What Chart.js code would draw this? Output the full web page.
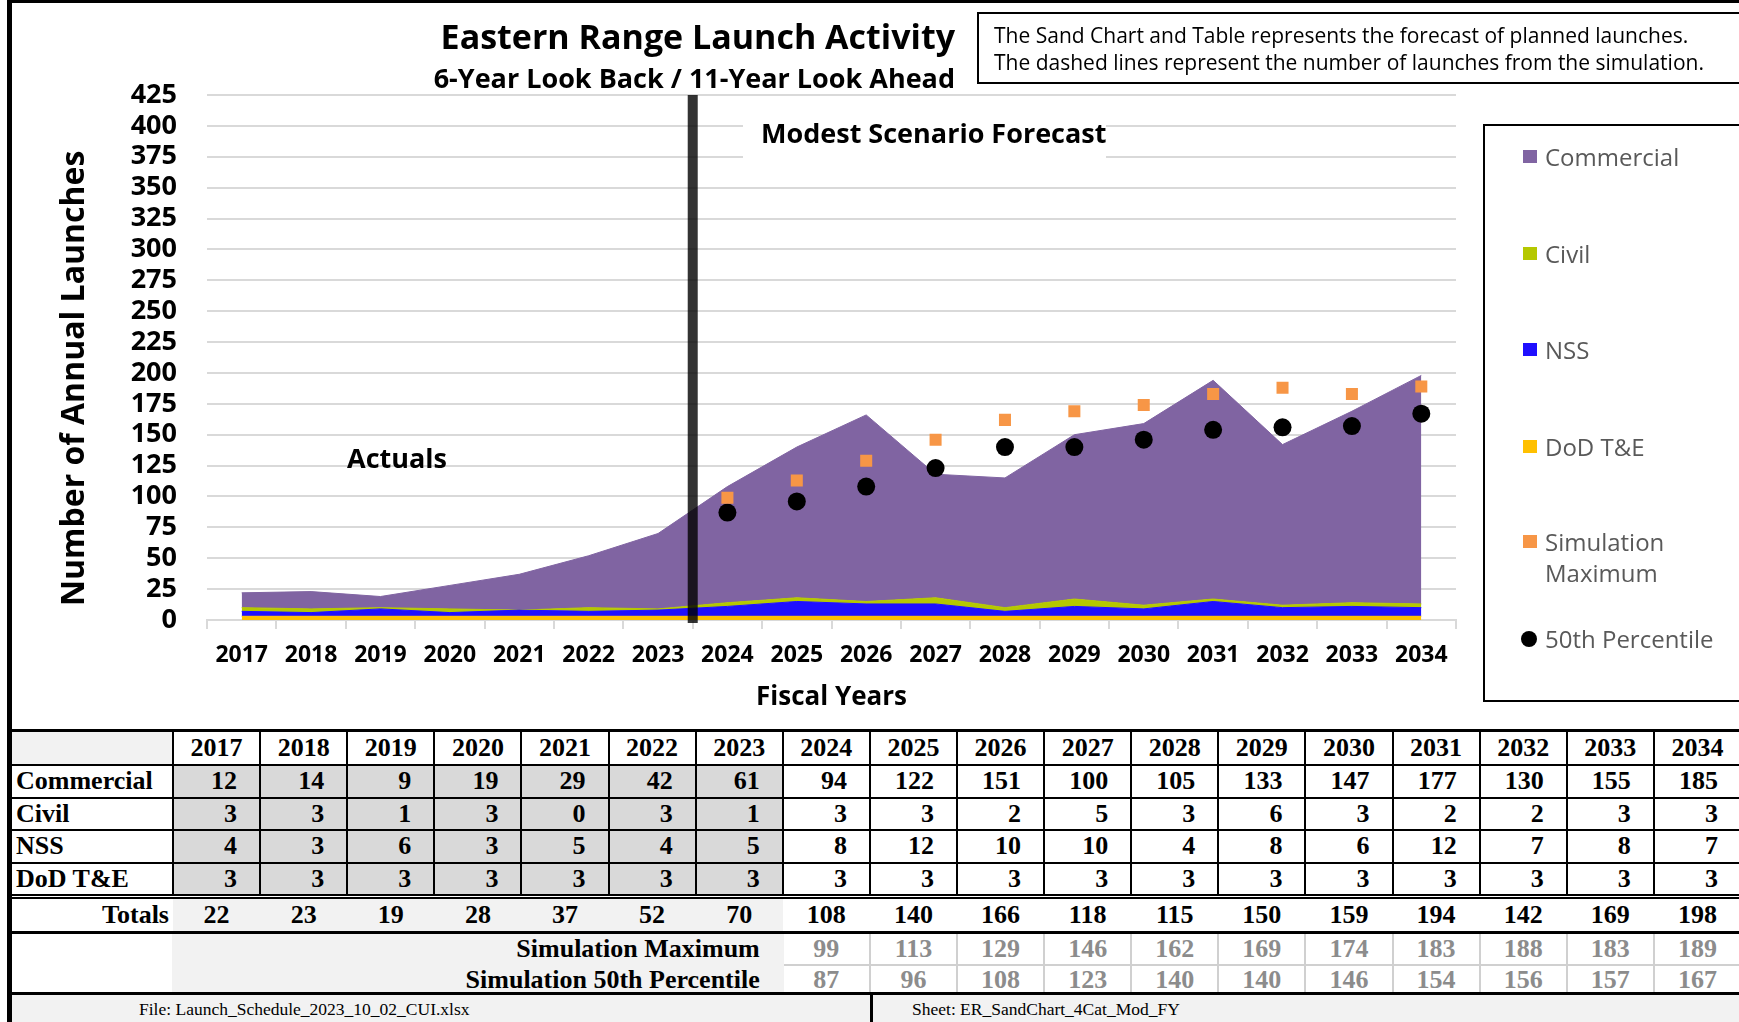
<!DOCTYPE html>
<html>
<head>
<meta charset="utf-8">
<title>Eastern Range Launch Activity</title>
<script src="https://cdn.jsdelivr.net/npm/chart.js@4.4.1/dist/chart.umd.min.js"></script>
<style>
  body { margin: 0; background: #fff; }
  #wrap { position: relative; width: 1739px; height: 1022px; overflow: hidden; font-family: "Open Sans", sans-serif; }
  #chart { position: absolute; left: 0; top: 0; }
  .frameL { position: absolute; left: 7px; top: 0; width: 5px; height: 1022px; background: #000; z-index: 5; }
  .frameT { position: absolute; left: 7px; top: 0; width: 1732px; height: 3px; background: #000; z-index: 5; }
  .title { position: absolute; right: 784px; top: 14px; font-weight: bold; font-size: 34px; line-height: 44px; white-space: nowrap; }
  .subtitle { position: absolute; right: 784px; top: 62px; font-weight: bold; font-size: 27px; line-height: 32px; white-space: nowrap; }
  .note { position: absolute; left: 977px; top: 12px; width: 800px; height: 72px; border: 2px solid #000; box-sizing: border-box; padding: 8px 0 0 15px; font-size: 21px; line-height: 27px; color: #000; white-space: nowrap; }
  .legend { position: absolute; left: 1483px; top: 124px; width: 300px; height: 578px; border: 2px solid #000; box-sizing: border-box; }
  .leg-item { position: absolute; left: 60px; font-size: 24px; line-height: 31px; color: #595959; white-space: nowrap; }
  .leg-mark { position: absolute; left: -22px; top: 9px; width: 14px; height: 13px; }
  #tbl { position: absolute; left: 10px; top: 729px; width: 1730px; border-collapse: collapse; table-layout: fixed;
         font-family: "Liberation Serif", "Times New Roman", serif; font-weight: bold; font-size: 26px; color: #000; }
  #tbl td { padding: 0; line-height: 26px; white-space: nowrap; overflow: hidden; }
  #tbl tr.hd td { height: 32px; border: 2px solid #000; border-top: 3px solid #000; text-align: center; background: #fff; }
  #tbl tr.hd td.lab { background: #f2f2f2; }
  #tbl tr.dat td { height: 30.5px; border: 2px solid #000; text-align: right; padding-right: 22px; background: #fff; }
  #tbl tr.dat td.act { background: #d9d9d9; }
  #tbl tr.dat td.lab { text-align: left; padding: 0 0 0 4px; }
  #tbl tr.tot td { height: 32px; border-top: 5px double #000; border-bottom: 3px solid #000; text-align: center; background: #fff; }
  #tbl tr.tot td.act { background: #f2f2f2; }
  #tbl tr.tot td.lab { text-align: right; padding-right: 4px; }
  #tbl tr.sim td { height: 29.5px; color: #8c8c8c; text-align: center; border: 2px solid #d0d0d0; background: #fff; }
  #tbl tr.sim td.lab { border: none; border-left: 2px solid #000; }
  #tbl tr.sim td.sl { background: #f2f2f2; color: #000; text-align: right; padding-right: 22px; border-color: #f2f2f2; }
  #tbl tr.sim.last td { border-bottom: none; }
  .foot { position: absolute; left: 10px; top: 992px; width: 1729px; height: 30px; background: #f2f2f2; border-top: 3px solid #000; box-sizing: border-box;
          font-family: "Liberation Serif", "Times New Roman", serif; font-size: 17.5px; line-height: 30px; }
  .foot span { position: absolute; top: -1px; white-space: nowrap; }
  .foot .div { position: absolute; left: 860px; top: 0; width: 3px; height: 28px; background: #000; }
</style>
</head>
<body>
<div id="wrap">
  <canvas id="chart" width="1739" height="728"></canvas>
  <div class="frameL"></div>
  <div class="frameT"></div>
  <div class="title">Eastern Range Launch Activity</div>
  <div class="subtitle">6-Year Look Back / 11-Year Look Ahead</div>
  <div class="note">The Sand Chart and Table represents the forecast of planned launches.<br>The dashed lines represent the number of launches from the simulation.</div>
  <div class="legend" id="legend"></div>
  <table id="tbl"></table>
  <div class="foot">
    <span style="left:129px">File: Launch_Schedule_2023_10_02_CUI.xlsx</span>
    <div class="div"></div>
    <span style="left:902px">Sheet: ER_SandChart_4Cat_Mod_FY</span>
  </div>
</div>
<script>
// Datos
const years = ["2017", "2018", "2019", "2020", "2021", "2022", "2023", "2024", "2025",
  "2026", "2027", "2028", "2029", "2030", "2031", "2032", "2033", "2034"];
const commercial = [12, 14, 9, 19, 29, 42, 61, 94, 122, 151, 100, 105, 133, 147, 177, 130, 155, 185];
const civil = [3, 3, 1, 3, 0, 3, 1, 3, 3, 2, 5, 3, 6, 3, 2, 2, 3, 3];
const nss = [4, 3, 6, 3, 5, 4, 5, 8, 12, 10, 10, 4, 8, 6, 12, 7, 8, 7];
const dodTE = [3, 3, 3, 3, 3, 3, 3, 3, 3, 3, 3, 3, 3, 3, 3, 3, 3, 3];
const totals = [22, 23, 19, 28, 37, 52, 70, 108, 140, 166, 118, 115, 150, 159, 194, 142, 169, 198];
const simMax = [null, null, null, null, null, null, null, 99, 113, 129, 146, 162, 169, 174, 183, 188, 183, 189];
const sim50 = [null, null, null, null, null, null, null, 87, 96, 108, 123, 140, 140, 146, 154, 156, 157, 167];
const actualYears = 7;

const colors = {
  commercial: "#8064a2",
  civil: "#b5c800",
  nss: "#1f0fff",
  dod: "#ffc000",
  simMax: "#f79646",
  sim50: "#000000",
};

Chart.defaults.font.family = "'Open Sans', sans-serif";
Chart.defaults.color = "#000";

// Línea divisoria y textos sobre el gráfico
const overlayPlugin = {
  id: "overlay",
  afterDatasetsDraw(chart) {
    const { ctx, chartArea, scales } = chart;
    const x = scales.x, y = scales.y;
    ctx.save();
    const xd = (x.getPixelForValue(actualYears - 1) + x.getPixelForValue(actualYears)) / 2;
    ctx.fillStyle = "rgba(0,0,0,0.8)";
    ctx.fillRect(xd - 5, chartArea.top, 10, y.getPixelForValue(0) + 3 - chartArea.top);

    ctx.fillStyle = "#fff";
    ctx.fillRect(743, 108, 363, 54);
    ctx.fillStyle = "#000";
    ctx.font = "bold 27px 'Open Sans'";
    ctx.textBaseline = "middle";
    ctx.textAlign = "left";
    ctx.fillText("Modest Scenario Forecast", 761, 135);
    ctx.textAlign = "center";
    ctx.fillText("Actuals", 397, 460);
    ctx.restore();
  },
};

function areaSet(label, data, color, fill) {
  return {
    label: label,
    data: data,
    backgroundColor: color,
    borderColor: color,
    borderWidth: 1,
    pointRadius: 0,
    fill: fill,
    stack: "launches",
    tension: 0,
  };
}

const ctx = document.getElementById("chart").getContext("2d");
new Chart(ctx, {
  type: "line",
  data: {
    labels: years,
    datasets: [
      areaSet("DoD T&E", dodTE, colors.dod, "origin"),
      areaSet("NSS", nss, colors.nss, "-1"),
      areaSet("Civil", civil, colors.civil, "-1"),
      areaSet("Commercial", commercial, colors.commercial, "-1"),
      {
        label: "Simulation Maximum",
        data: simMax,
        showLine: false,
        pointStyle: "rect",
        pointRadius: 8.5,
        backgroundColor: colors.simMax,
        borderColor: colors.simMax,
        borderWidth: 0,
        stack: "max",
        order: -2,
      },
      {
        label: "50th Percentile",
        data: sim50,
        showLine: false,
        pointStyle: "circle",
        pointRadius: 9,
        backgroundColor: colors.sim50,
        borderColor: colors.sim50,
        borderWidth: 0,
        stack: "p50",
        order: -1,
      },
    ],
  },
  options: {
    responsive: false,
    animation: false,
    layout: { padding: { left: 0, right: 283, top: 95, bottom: 0 } },
    plugins: {
      legend: { display: false },
      tooltip: { enabled: false },
    },
    scales: {
      x: {
        offset: true,
        afterFit: (scale) => { scale.height = 108; },
        grid: { drawOnChartArea: false, drawTicks: true, tickLength: 9, offset: true, color: "#d9d9d9", lineWidth: 2 },
        border: { display: true, color: "#d9d9d9", width: 2 },
        ticks: { font: { size: 23, weight: "bold" }, padding: 13, maxRotation: 0, autoSkip: false },
        title: { display: true, text: "Fiscal Years", font: { size: 26, weight: "bold" }, padding: { top: 0, bottom: 15 } },
      },
      y: {
        stacked: true,
        min: 0,
        max: 425,
        afterFit: (scale) => { scale.width = 207; },
        grid: { color: "#d9d9d9", lineWidth: 2, drawTicks: false },
        border: { display: false },
        ticks: { stepSize: 25, autoSkip: false, font: { size: 27, weight: "bold" }, padding: 30 },
        title: { display: true, text: "Number of Annual Launches     ", font: { size: 32, weight: "bold" }, padding: { top: 56, bottom: 0 } },
      },
    },
  },
  plugins: [overlayPlugin],
});

// Leyenda
const legendItems = [
  { text: "Commercial", color: colors.commercial, center: 156, shape: "sq" },
  { text: "Civil", color: colors.civil, center: 253, shape: "sq" },
  { text: "NSS", color: colors.nss, center: 349, shape: "sq" },
  { text: "DoD T&E", color: colors.dod, center: 446, shape: "sq" },
  { text: "Simulation<br>Maximum", color: colors.simMax, center: 541, shape: "sq" },
  { text: "50th Percentile", color: colors.sim50, center: 638, shape: "dot" },
];
const legend = document.getElementById("legend");
legendItems.forEach((item) => {
  const el = document.createElement("div");
  el.className = "leg-item";
  el.style.top = (item.center - 124 - 2 - 15) + "px";
  el.innerHTML = item.text;
  const mark = document.createElement("div");
  mark.className = "leg-mark";
  mark.style.background = item.color;
  if (item.shape === "dot") {
    mark.style.borderRadius = "50%";
    mark.style.width = "16px";
    mark.style.height = "16px";
    mark.style.left = "-24px";
    mark.style.top = "8px";
  }
  el.appendChild(mark);
  legend.appendChild(el);
});

// Tabla
const rows = [
  ["Commercial", commercial],
  ["Civil", civil],
  ["NSS", nss],
  ["DoD T&amp;E", dodTE],
];
let html = '<colgroup><col style="width:162px">' + years.map(() => '<col style="width:87.115px">').join("") + "</colgroup>";
html += '<tr class="hd"><td class="lab"></td>' + years.map((y) => "<td>" + y + "</td>").join("") + "</tr>";
rows.forEach(([name, vals]) => {
  html += '<tr class="dat"><td class="lab">' + name + "</td>" +
    vals.map((v, i) => '<td class="' + (i < actualYears ? "act" : "") + '">' + v + "</td>").join("") + "</tr>";
});
html += '<tr class="tot"><td class="lab">Totals</td>' +
  totals.map((v, i) => '<td class="' + (i < actualYears ? "act" : "") + '">' + v + "</td>").join("") + "</tr>";
[["Simulation Maximum", simMax, ""], ["Simulation 50th Percentile", sim50, " last"]].forEach(([name, vals, extra]) => {
  html += '<tr class="sim' + extra + '"><td class="lab"></td><td class="sl" colspan="' + actualYears + '">' + name + "</td>" +
    vals.slice(actualYears).map((v) => "<td>" + v + "</td>").join("") + "</tr>";
});
document.getElementById("tbl").innerHTML = html;
</script>
</body>
</html>
